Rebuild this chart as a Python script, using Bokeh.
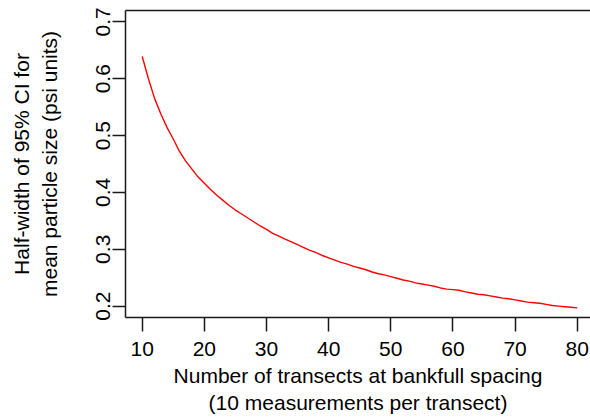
from bokeh.plotting import figure
from bokeh.models import Range1d, FixedTicker, LinearAxis
from bokeh.embed import file_html
from bokeh.resources import INLINE

# Data
transects = list(range(10, 81))
half_width = [
    0.639, 0.600, 0.565, 0.538, 0.514, 0.494, 0.472, 0.455, 0.441, 0.427,
    0.416, 0.405, 0.395, 0.386, 0.377, 0.369, 0.362, 0.355, 0.348, 0.341,
    0.335, 0.328, 0.323, 0.318, 0.313, 0.308, 0.303, 0.298, 0.294, 0.289,
    0.285, 0.281, 0.277, 0.274, 0.270, 0.267, 0.264, 0.260, 0.257, 0.255,
    0.252, 0.249, 0.246, 0.244, 0.241, 0.239, 0.237, 0.235, 0.232, 0.230,
    0.229, 0.228, 0.225, 0.223, 0.221, 0.220, 0.218, 0.216, 0.214, 0.213,
    0.211, 0.209, 0.207, 0.206, 0.205, 0.203, 0.201, 0.200, 0.199, 0.198,
    0.197,
]
x_ticks = [10, 20, 30, 40, 50, 60, 70, 80]
y_ticks = [0.2, 0.3, 0.4, 0.5, 0.6, 0.7]
x_title = "Number of transects at bankfull spacing\n(10 measurements per transect)"
y_title = "Half-width of 95% CI for\nmean particle size (psi units)"

FONT = "Liberation Sans"
FS = "21px"
INK = "#1a1a1a"

p = figure(width=590, height=418, output_backend="svg", toolbar_location=None,
           x_range=Range1d(7.31, 82.14), y_range=Range1d(0.18, 0.72),
           min_border_left=125, min_border_right=0, min_border_top=10,
           min_border_bottom=101)
p.xgrid.visible = False
p.ygrid.visible = False
p.outline_line_color = None
p.background_fill_color = "white"
p.border_fill_color = "white"

p.line(transects, half_width, line_color="#FF0000", line_width=1.4)

for ax in (p.xaxis[0], p.yaxis[0]):
    ax.major_tick_in = 0
    ax.minor_tick_in = 0
    ax.minor_tick_out = 0
    ax.axis_line_color = INK
    ax.axis_line_width = 1.5
    ax.major_tick_line_color = INK
    ax.major_tick_line_width = 1.5
    ax.major_label_text_font = FONT
    ax.major_label_text_font_size = FS
    ax.major_label_text_color = "black"
    ax.axis_label_text_font = FONT
    ax.axis_label_text_font_size = FS
    ax.axis_label_text_font_style = "normal"
    ax.axis_label_text_color = "black"

xa = p.xaxis[0]
xa.ticker = FixedTicker(ticks=x_ticks)
xa.major_tick_out = 14
xa.major_label_standoff = 10
xa.axis_label = x_title
xa.axis_label_standoff = 5

ya = p.yaxis[0]
ya.ticker = FixedTicker(ticks=y_ticks)
ya.major_tick_out = 13
ya.major_label_orientation = "vertical"
ya.major_label_standoff = 2
ya.axis_label = y_title
ya.axis_label_standoff = 33

top = LinearAxis(ticker=FixedTicker(ticks=[]), axis_line_color=INK,
                 axis_line_width=1.5, major_tick_out=0, major_tick_in=0,
                 minor_tick_out=0, minor_tick_in=0)
p.add_layout(top, "above")

open("out.html", "w").write(file_html(p, INLINE))
